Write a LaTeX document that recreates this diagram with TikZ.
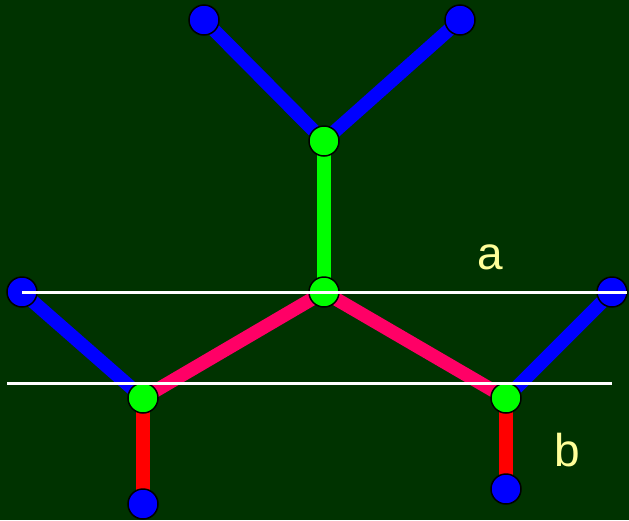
\documentclass[tikz,border=0pt]{standalone}
\usepackage{fontspec}
\setmainfont{Liberation Sans}
\usepackage{xcolor}
\definecolor{ptbg}{HTML}{003300}
\definecolor{ptblue}{HTML}{0000FF}
\definecolor{ptgreen}{HTML}{00FF00}
\definecolor{ptpink}{HTML}{FF0066}
\definecolor{ptred}{HTML}{FF0000}
\definecolor{ptlabel}{HTML}{FFFF99}
\tikzset{
  ptbond/.style={line width=13.5pt, line cap=butt},
  ptblueb/.style={ptbond, draw=ptblue},
  ptgreenb/.style={ptbond, draw=ptgreen},
  ptpinkb/.style={ptbond, draw=ptpink},
  ptredb/.style={ptbond, draw=ptred},
  ptleaf/.style={circle, minimum size=30pt, inner sep=0pt, fill=ptblue, draw=black, line width=1.5pt},
  ptjoint/.style={circle, minimum size=30pt, inner sep=0pt, fill=ptgreen, draw=black, line width=1.5pt},
  ptcut/.style={line width=3pt, draw=white},
  ptname/.style={text=ptlabel, font=\fontsize{46}{50}\selectfont},
}

\begin{document}
\begin{tikzpicture}[x=1pt,y=-1pt]
\fill[ptbg] (0,0) rectangle (629,520);
\useasboundingbox (0,0) rectangle (629,520);
% positions
\coordinate (lt) at (204,20);
\coordinate (rt) at (460,20);
\coordinate (up) at (324,141);
\coordinate (mid) at (324,292);
\coordinate (lo) at (22,292);
\coordinate (ro) at (612,292);
\coordinate (lb) at (143,398);
\coordinate (rb) at (506,398);
\coordinate (ld) at (143,504);
\coordinate (rd) at (506,489);
% bonds
\draw[ptblueb] (lt) -- (up);
\draw[ptblueb] (rt) -- (up);
\draw[ptgreenb] (up) -- (mid);
\draw[ptpinkb] (mid) -- (lb);
\draw[ptpinkb] (mid) -- (rb);
\draw[ptblueb] (lo) -- (lb);
\draw[ptblueb] (ro) -- (rb);
\draw[ptredb] (lb) -- (ld);
\draw[ptredb] (rb) -- (rd);
% atoms
\node[ptleaf] (nlt) at (lt) {};
\node[ptleaf] (nrt) at (rt) {};
\node[ptjoint] (nup) at (up) {};
\node[ptjoint] (nmid) at (mid) {};
\node[ptleaf] (nlo) at (lo) {};
\node[ptleaf] (nro) at (ro) {};
\node[ptjoint] (nlb) at (lb) {};
\node[ptjoint] (nrb) at (rb) {};
\node[ptleaf] (nld) at (ld) {};
\node[ptleaf] (nrd) at (rd) {};
% cut lines
\coordinate (a1) at (22,292);
\coordinate (a2) at (627,292);
\coordinate (b1) at (7,383);
\coordinate (b2) at (612,383);
\draw[ptcut] (a1) -- (a2);
\draw[ptcut] (b1) -- (b2);
\node[ptname] (la) at (490,257) {a};
\node[ptname] (lb2) at (567,450) {b};
\end{tikzpicture}
\end{document}
